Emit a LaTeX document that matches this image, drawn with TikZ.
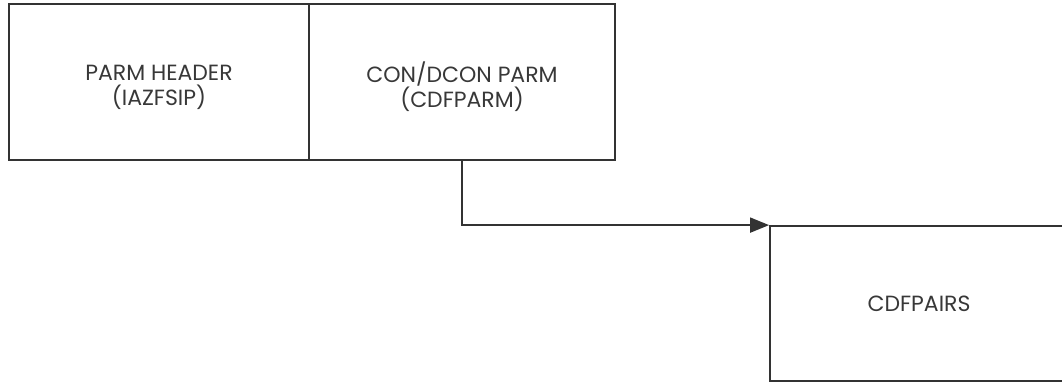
\documentclass[tikz,border=0pt]{standalone}
\usepackage{fontspec}
\setmainfont{Poppins}
\usetikzlibrary{arrows.meta}
\definecolor{linec}{gray}{0.2}
\definecolor{textc}{gray}{0.22}
\begin{document}
\begin{tikzpicture}[x=1pt,y=-1pt,
  blk/.style={draw=linec,line width=1.8pt,rectangle,inner sep=0pt,
    minimum height=156pt,align=center,text=textc,font=\fontsize{22}{25}\selectfont},
  txt/.style={align=center,text=textc,inner sep=0pt,font=\fontsize{22}{25}\selectfont},
  conn/.style={draw=linec,line width=1.8pt,-{Triangle[length=19pt,width=15pt]}}]
\useasboundingbox (0,0) rectangle (1062,383);
\node[blk,minimum width=300pt] (hdr) at (159,82) {};
\node[blk,minimum width=306pt] (parm) at (462,82) {};
\node[txt] (hdrt) at (159,87) {PARM HEADER\\(IAZFSIP)};
\node[txt] (parmt) at (462,87) {CON/DCON PARM\\(CDFPARM)};
\node[blk,minimum width=298pt,minimum height=155pt] (pairs) at (919,303.5) {CDFPAIRS};
\draw[conn] (parm.south) |- (pairs.north west);
\end{tikzpicture}
\end{document}
